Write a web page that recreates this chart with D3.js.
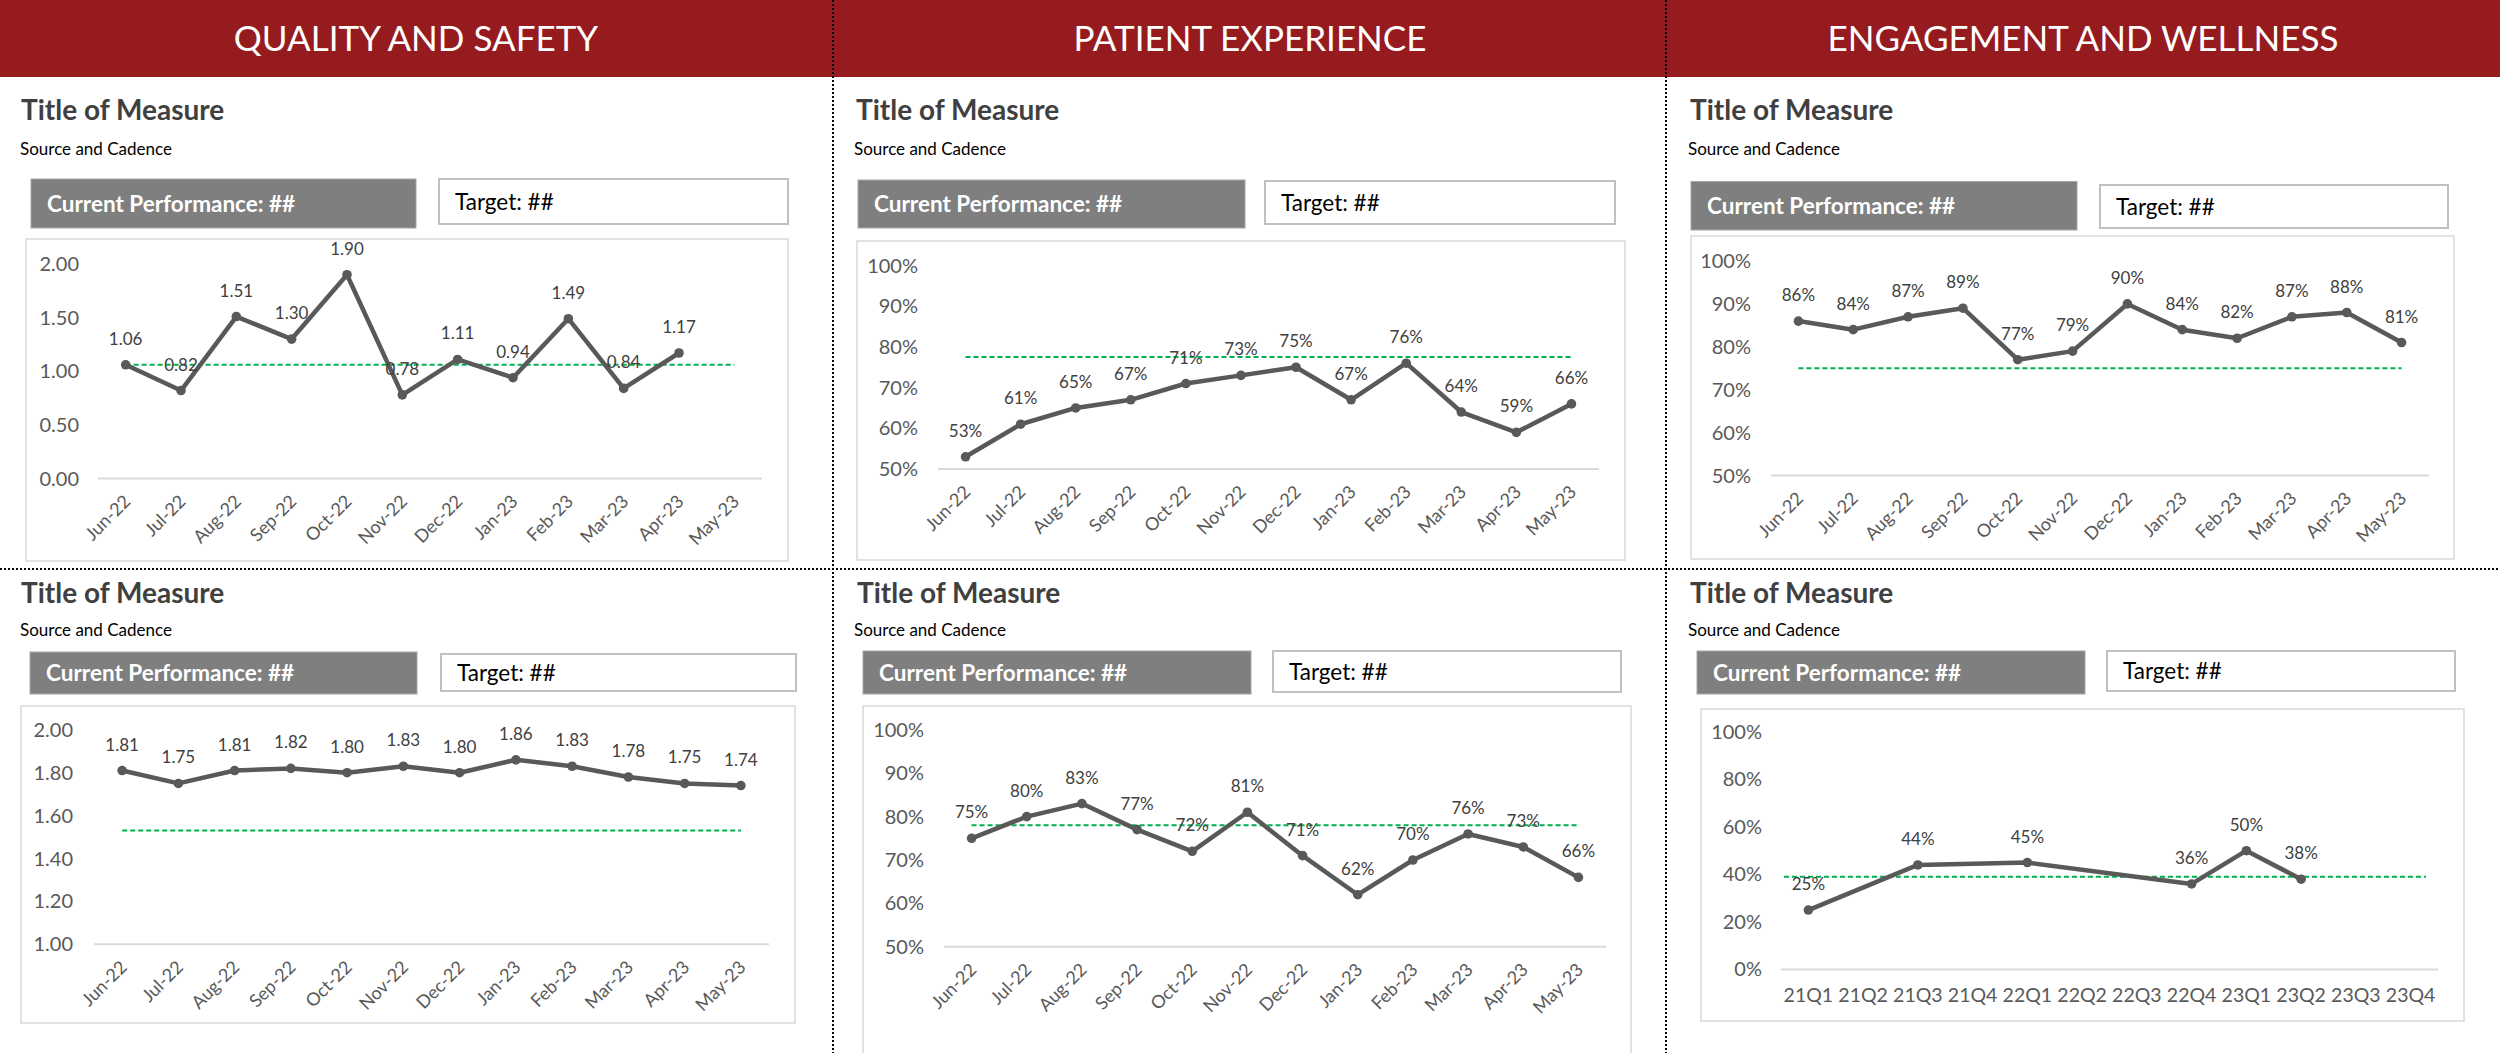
<!DOCTYPE html>
<html>
<head>
<meta charset="utf-8">
<script src="https://cdn.jsdelivr.net/npm/d3@7"></script>
<style>
  html, body { margin: 0; padding: 0; background: #ffffff; }
  svg { display: block; font-family: Lato, "Open Sans", sans-serif; }
</style>
</head>
<body>
<svg id="chart" width="2500" height="1053"></svg>
<script>
// ---------------- DATA ----------------
const sectionHeaders = ["QUALITY AND SAFETY", "PATIENT EXPERIENCE", "ENGAGEMENT AND WELLNESS"];
const measureTitle = "Title of Measure";
const sourceText = "Source and Cadence";
const currentText = "Current Performance: ##";
const targetText = "Target: ##";

const months = ["Jun-22","Jul-22","Aug-22","Sep-22","Oct-22","Nov-22","Dec-22","Jan-23","Feb-23","Mar-23","Apr-23","May-23"];
const quarters = ["21Q1","21Q2","21Q3","21Q4","22Q1","22Q2","22Q3","22Q4","23Q1","23Q2","23Q3","23Q4"];

const qualityValuesA = [1.06, 0.82, 1.51, 1.30, 1.90, 0.78, 1.11, 0.94, 1.49, 0.84, 1.17, null];
const qualityValuesB = [1.81, 1.75, 1.81, 1.82, 1.80, 1.83, 1.80, 1.86, 1.83, 1.78, 1.75, 1.74];
const patientValuesA = [0.53, 0.61, 0.65, 0.67, 0.71, 0.73, 0.75, 0.67, 0.76, 0.64, 0.59, 0.66];
const patientValuesB = [0.75, 0.80, 0.83, 0.77, 0.72, 0.81, 0.71, 0.62, 0.70, 0.76, 0.73, 0.66];
const wellnessValuesA = [0.86, 0.84, 0.87, 0.89, 0.77, 0.79, 0.90, 0.84, 0.82, 0.87, 0.88, 0.81];
const wellnessValuesB = [0.25, null, 0.44, null, 0.45, null, null, 0.36, 0.50, 0.38, null, null];

const qualityTargetA = 1.06;
const qualityTargetB = 1.53;
const patientTargetA = 0.775;
const patientTargetB = 0.78;
const wellnessTargetA = 0.75;
const wellnessTargetB = 0.39;

const ticksQualityA = [0, 0.5, 1.0, 1.5, 2.0];
const ticksQualityB = [1.0, 1.2, 1.4, 1.6, 1.8, 2.0];
const ticksPct50 = [0.5, 0.6, 0.7, 0.8, 0.9, 1.0];
const ticksPct0 = [0, 0.2, 0.4, 0.6, 0.8, 1.0];

// ---------------- LAYOUT ----------------
const svg = d3.select("#chart");
const W = 2500, H = 1053;
const C = {
  header: "#951B1E", line: "#595959", label: "#404040", tick: "#595959",
  axis: "#D9D9D9", box: "#D9D9D9", target: "#00B050", cp: "#7F7F7F", tbox: "#BFBFBF"
};
const fmtNum = d3.format(".2f"), fmtPct = d3.format(".0%");

const panels = [
  { cats: months, values: qualityValuesA, target: qualityTargetA, ticks: ticksQualityA, fmt: fmtNum, rotate: true, fullTarget: false,
    title: [21,120], source: [20,154.5], cp: [31,179,416,228], tb: [439,179,788,224], box: [26,239,788,561], px: [98,762], py: [478.5,264], lr: 79 },
  { cats: months, values: patientValuesA, target: patientTargetA, ticks: ticksPct50, fmt: fmtPct, rotate: true, fullTarget: false,
    title: [856,120], source: [854,154.5], cp: [858,180,1245,228], tb: [1265,181,1615,224], box: [857,241,1625,560], px: [938,1599], py: [469,265.5], lr: 918 },
  { cats: months, values: wellnessValuesA, target: wellnessTargetA, ticks: ticksPct50, fmt: fmtPct, rotate: true, fullTarget: false,
    title: [1690,120], source: [1688,154.5], cp: [1691,181.5,2077,230], tb: [2100,185,2448,228], box: [1691,236,2454,559], px: [1771,2429], py: [475.6,261], lr: 1751 },
  { cats: months, values: qualityValuesB, target: qualityTargetB, ticks: ticksQualityB, fmt: fmtNum, rotate: true, fullTarget: false,
    title: [21,603], source: [20,635.5], cp: [30,652,417,694], tb: [441,654,796,691], box: [21,706,795,1023], px: [94,769], py: [944.3,729.8], lr: 73 },
  { cats: months, values: patientValuesB, target: patientTargetB, ticks: ticksPct50, fmt: fmtPct, rotate: true, fullTarget: false,
    title: [857,603], source: [854,635.5], cp: [863,651,1251,694], tb: [1273,651,1621,692], box: [863,706,1631,1060], px: [944,1606], py: [946.8,729.8], lr: 924 },
  { cats: quarters, values: wellnessValuesB, target: wellnessTargetB, ticks: ticksPct0, fmt: fmtPct, rotate: false, fullTarget: true,
    title: [1690,603], source: [1688,635.5], cp: [1697,651,2085,694], tb: [2107,651,2455,691], box: [1701,709,2464,1021], px: [1781,2438], py: [969.4,732], lr: 1762 }
];

// background
svg.append("rect").attr("x",0).attr("y",0).attr("width",W).attr("height",H).attr("fill","#fff");

// header band
svg.append("rect").attr("x",0).attr("y",0).attr("width",W).attr("height",77).attr("fill",C.header);
const colCenters = [416, 1250, 2083];
sectionHeaders.forEach((h,i) => {
  svg.append("text").attr("x", colCenters[i]).attr("y", 51).attr("text-anchor","middle")
    .attr("fill","#fff").attr("font-size", 35).text(h);
});

panels.forEach(p => {
  const g = svg.append("g");
  g.append("text").attr("x",p.title[0]).attr("y",p.title[1]).attr("font-size",28).attr("font-weight","bold")
    .attr("fill","#404040").text(measureTitle);
  g.append("text").attr("x",p.source[0]).attr("y",p.source[1]).attr("font-size",17).attr("fill","#000").text(sourceText);

  g.append("rect").attr("x",p.cp[0]).attr("y",p.cp[1]).attr("width",p.cp[2]-p.cp[0]).attr("height",p.cp[3]-p.cp[1])
    .attr("fill",C.cp).attr("stroke","#A6A6A6").attr("stroke-width",1);
  g.append("text").attr("x",p.cp[0]+16).attr("y",(p.cp[1]+p.cp[3])/2+8).attr("font-size",22.5).attr("font-weight","bold")
    .attr("fill","#fff").text(currentText);

  g.append("rect").attr("x",p.tb[0]).attr("y",p.tb[1]).attr("width",p.tb[2]-p.tb[0]).attr("height",p.tb[3]-p.tb[1])
    .attr("fill","#fff").attr("stroke",C.tbox).attr("stroke-width",2);
  g.append("text").attr("x",p.tb[0]+16).attr("y",(p.tb[1]+p.tb[3])/2+8).attr("font-size",22.5)
    .attr("fill","#000").text(targetText);

  g.append("rect").attr("x",p.box[0]).attr("y",p.box[1]).attr("width",p.box[2]-p.box[0]).attr("height",p.box[3]-p.box[1])
    .attr("fill","#fff").attr("stroke",C.box).attr("stroke-width",1.5);

  const x = d3.scaleBand().domain(p.cats).range(p.px).padding(0);
  const cx = c => x(c) + x.bandwidth()/2;
  const y = d3.scaleLinear().domain([p.ticks[0], p.ticks[p.ticks.length-1]]).range(p.py);

  // y tick labels
  g.selectAll(".yt").data(p.ticks).join("text")
    .attr("x", p.lr).attr("y", d => y(d)).attr("dy","0.35em").attr("text-anchor","end")
    .attr("font-size",20).attr("fill",C.tick).text(d => p.fmt(d));

  // axis baseline
  g.append("line").attr("x1",p.px[0]).attr("x2",p.px[1]).attr("y1",y(p.ticks[0])).attr("y2",y(p.ticks[0]))
    .attr("stroke",C.axis).attr("stroke-width",2);

  // x labels
  const yb = y(p.ticks[0]);
  if (p.rotate) {
    g.selectAll(".xt").data(p.cats).join("text")
      .attr("transform", d => `translate(${cx(d)+6},${yb+24}) rotate(-45)`)
      .attr("text-anchor","end").attr("font-size",18).attr("fill",C.tick).text(d => d);
  } else {
    g.selectAll(".xt").data(p.cats).join("text")
      .attr("x", d => cx(d)).attr("y", yb+33).attr("text-anchor","middle")
      .attr("font-size",19.5).attr("fill",C.tick).text(d => d);
  }

  // target line
  const tx0 = p.fullTarget ? p.px[0] + 3 : cx(p.cats[0]);
  const tx1 = p.fullTarget ? p.px[1] - 12 : cx(p.cats[p.cats.length-1]);
  g.append("line").attr("x1",tx0).attr("x2",tx1).attr("y1",y(p.target)).attr("y2",y(p.target))
    .attr("stroke",C.target).attr("stroke-width",2).attr("stroke-dasharray","5,3");

  // series
  const pts = p.cats.map((c,i) => ({c, v: p.values[i]})).filter(d => d.v != null);
  const line = d3.line().x(d => cx(d.c)).y(d => y(d.v));
  g.append("path").datum(pts).attr("d", line).attr("fill","none").attr("stroke",C.line)
    .attr("stroke-width",4.5).attr("stroke-linejoin","round").attr("stroke-linecap","round");
  g.selectAll(".pt").data(pts).join("circle").attr("cx", d => cx(d.c)).attr("cy", d => y(d.v))
    .attr("r",4.8).attr("fill",C.line);
  g.selectAll(".lbl").data(pts).join("text").attr("x", d => cx(d.c)).attr("y", d => y(d.v) - 20)
    .attr("text-anchor","middle").attr("font-size",17).attr("fill",C.label).text(d => p.fmt(d.v));
});

// dotted dividers
const dot = { stroke: "#000", "stroke-width": 2, "stroke-dasharray": "2,2" };
function dline(x1,y1,x2,y2) {
  const l = svg.append("line").attr("x1",x1).attr("y1",y1).attr("x2",x2).attr("y2",y2);
  Object.entries(dot).forEach(([k,v]) => l.attr(k,v));
}
dline(0,569,W,569);
dline(833,0,833,H);
dline(1666,0,1666,H);
</script>
</body>
</html>
